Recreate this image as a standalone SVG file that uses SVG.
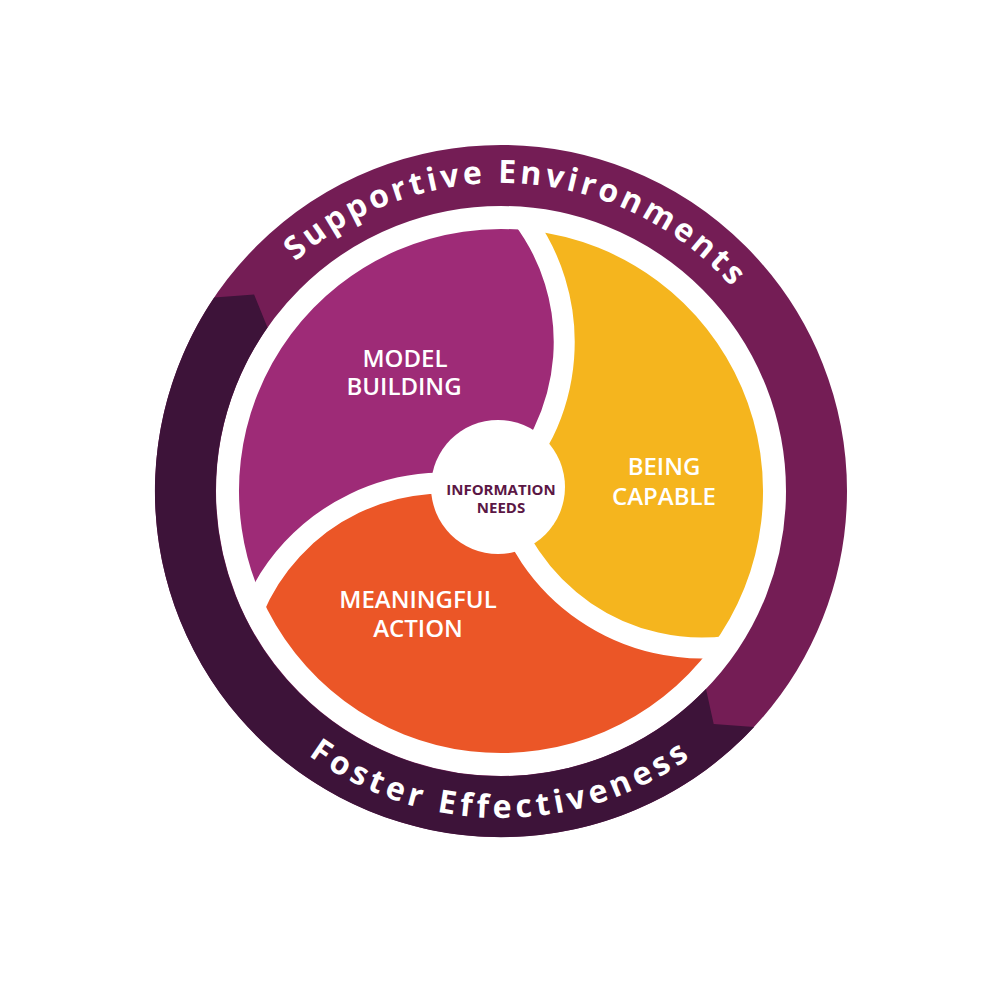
<svg xmlns="http://www.w3.org/2000/svg" width="1000" height="1000" viewBox="0 0 1000 1000">
<style>
.ringtxt{font-family:"Open Sans","Liberation Sans",sans-serif;font-weight:700;font-size:32px;fill:#ffffff}
.lbl{font-family:"Open Sans","Liberation Sans",sans-serif;font-weight:600;font-size:24px;fill:#ffffff;text-anchor:middle}
.ctr{font-family:"Open Sans","Liberation Sans",sans-serif;font-weight:700;font-size:15px;fill:#5B1745;text-anchor:middle}
.gap{fill:none;stroke:#ffffff;stroke-width:21}
</style>
<defs>
<path id="topArc" d="M 193 491 A 308 308 0 0 1 809 491"/>
<path id="botArc" d="M 174 491 A 327 327 0 0 0 828 491"/>
<clipPath id="diskClip"><circle cx="501" cy="491" r="273"/></clipPath>
</defs>
<rect width="1000" height="1000" fill="#ffffff"/>
<g id="ring">
<circle cx="501" cy="491" r="315.5" fill="none" stroke="#741D55" stroke-width="61"/>
<path d="M 754.1 727 L 713.7 724 L 706 689 A 285 285 0 0 1 267.5 327.5 L 254.1 294.6 L 214.2 297.5 A 346 346 0 0 0 754.1 727 Z" fill="#3D1339"/>
<text class="ringtxt" letter-spacing="3.6"><textPath href="#topArc" startOffset="52%" text-anchor="middle">Supportive Environments</textPath></text>
<text class="ringtxt" letter-spacing="4.6"><textPath href="#botArc" startOffset="50%" text-anchor="middle">Foster Effectiveness</textPath></text>
</g>
<g id="model-building">
<path d="M 501 491 A 207 207 0 0 0 260.3 594.5 A 262 262 0 0 1 531.7 230.8 A 207 207 0 0 1 501 491 Z" fill="#9E2B77"/>
<text class="lbl" x="405" y="367">MODEL</text>
<text class="lbl" x="404" y="395">BUILDING</text>
</g>
<g id="being-capable">
<path d="M 501 491 A 207 207 0 0 0 531.7 230.8 A 262 262 0 0 1 711 647.7 A 207 207 0 0 1 501 491 Z" fill="#F5B51E"/>
<text class="lbl" x="664" y="475">BEING</text>
<text class="lbl" x="664" y="505">CAPABLE</text>
</g>
<g id="meaningful-action">
<path d="M 501 491 A 207 207 0 0 0 711 647.7 A 262 262 0 0 1 260.3 594.5 A 207 207 0 0 1 501 491 Z" fill="#EB5627"/>
<text class="lbl" x="418" y="608">MEANINGFUL</text>
<text class="lbl" x="418" y="637">ACTION</text>
</g>
<g id="connectors" clip-path="url(#diskClip)">
<path class="gap" d="M 501 491 A 207 207 0 0 0 522 216.8"/>
<path class="gap" d="M 501 491 A 207 207 0 0 0 253.1 610"/>
<path class="gap" d="M 501 491 A 207 207 0 0 0 728 646.3"/>
</g>
<g id="information-needs">
<circle cx="498" cy="487" r="67" fill="#ffffff"/>
<text class="ctr" x="501" y="495">INFORMATION</text>
<text class="ctr" x="501" y="513">NEEDS</text>
</g>
</svg>
